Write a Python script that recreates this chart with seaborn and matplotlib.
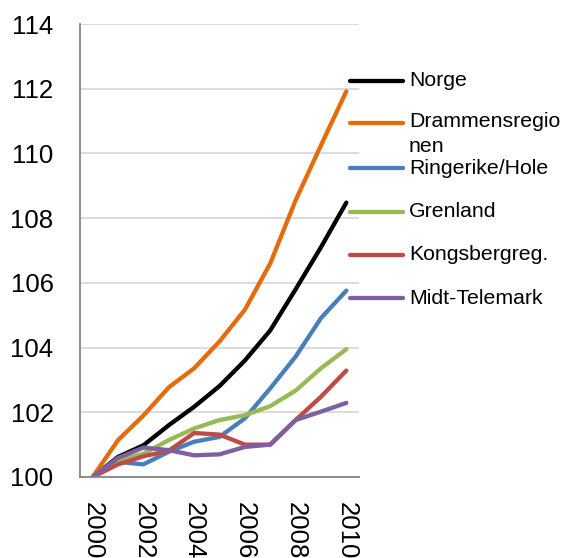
import matplotlib
matplotlib.use("Agg")
import matplotlib.pyplot as plt
import pandas as pd
import seaborn as sns

# indeks, 2000 = 100
years = list(range(2000, 2011))
regions = ["Norge", "Drammensregionen", "Ringerike/Hole", "Grenland", "Kongsbergreg.", "Midt-Telemark"]
norge = [100, 100.62, 100.98, 101.6, 102.17, 102.81, 103.6, 104.53, 105.8, 107.1, 108.48]
drammen = [100, 101.14, 101.9, 102.77, 103.36, 104.19, 105.17, 106.6, 108.55, 110.25, 111.92]
ringerike = [100, 100.47, 100.39, 100.78, 101.09, 101.24, 101.81, 102.74, 103.72, 104.91, 105.76]
grenland = [100, 100.52, 100.72, 101.14, 101.5, 101.76, 101.91, 102.19, 102.67, 103.36, 103.95]
kongsberg = [100, 100.39, 100.64, 100.81, 101.36, 101.31, 101.0, 101.0, 101.76, 102.48, 103.29]
midt = [100, 100.59, 100.91, 100.83, 100.67, 100.7, 100.93, 101.0, 101.76, 102.02, 102.29]
colors = ["#000000", "#E46C0A", "#4A7EBB", "#98B954", "#BE4B48", "#7D60A0"]

series = [norge, drammen, ringerike, grenland, kongsberg, midt]
df = pd.concat(
    [pd.DataFrame({"year": years, "value": vals, "region": name}) for name, vals in zip(regions, series)],
    ignore_index=True,
)

sns.set_style("white")
plt.rcParams["font.family"] = ["Liberation Sans", "DejaVu Sans"]
plt.rcParams["text.color"] = "black"

W, H = 563, 558
fig = plt.figure(figsize=(W / 100, H / 100), dpi=100)
ax = fig.add_axes([80 / W, 1 - 477 / H, (359 - 80) / W, (477 - 24) / H])

sns.lineplot(data=df, x="year", y="value", hue="region", hue_order=regions,
             palette=colors, linewidth=3.1, legend=False, ax=ax,
             solid_capstyle="round", solid_joinstyle="round")

ax.set_xlim(1999.5, 2010.5)
ax.set_ylim(100, 114)
ax.set_yticks(range(100, 115, 2))
ax.set_xticks(range(2000, 2011, 2))
ax.set_xticks([y - 0.5 for y in range(2000, 2012)], minor=True)
ax.set_xlabel("")
ax.set_ylabel("")

ax.grid(axis="y", color="#d9d9d9", linewidth=1.3)
ax.set_axisbelow(True)
for s in ["top", "right"]:
    ax.spines[s].set_visible(False)
for s in ["left", "bottom"]:
    ax.spines[s].set_color("#868686")
    ax.spines[s].set_linewidth(1.3)
ax.tick_params(axis="y", which="major", length=6, width=1.3, color="#868686",
               direction="out", pad=13, labelsize=18.5, labelcolor="black")
ax.tick_params(axis="x", which="major", length=0, pad=18, labelsize=18.5,
               labelcolor="black", labelrotation=-90)
ax.tick_params(axis="x", which="minor", length=6, width=1.3, color="#868686", direction="out")
for lbl in ax.get_xticklabels():
    lbl.set_va("top")
    lbl.set_ha("center")

# manuell legende
legend_labels = ["Norge", "Drammensregio\nnen", "Ringerike/Hole", "Grenland", "Kongsbergreg.", "Midt-Telemark"]
legend_y = [80.7, 123.3, 168, 211.7, 255, 298]
for lab, col, ypx in zip(legend_labels, colors, legend_y):
    yf = 1 - ypx / H
    fig.add_artist(plt.Line2D([350 / W, 403 / W], [yf, yf], color=col, linewidth=3.1,
                              solid_capstyle="round", transform=fig.transFigure))
    if "\n" in lab:
        fig.text(409 / W, 1 - (ypx - 11) / H, lab, fontsize=15.3, va="top", ha="left",
                 linespacing=1.35)
    else:
        fig.text(409 / W, yf, lab, fontsize=15.3, va="center", ha="left")

fig.savefig("out.png", dpi=100)
